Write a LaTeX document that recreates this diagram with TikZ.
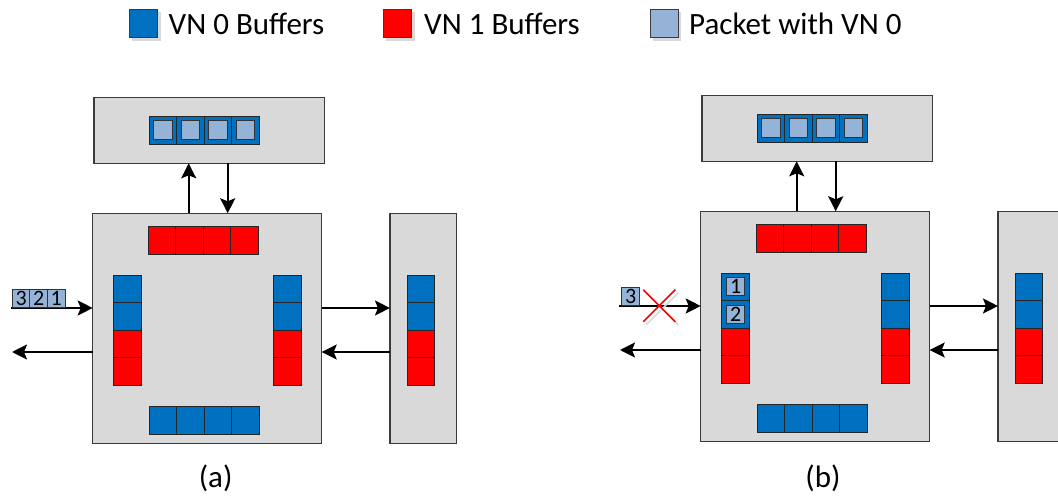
\documentclass[tikz,border=0pt]{standalone}
\usepackage{fontspec}
\setmainfont{Carlito}
\usetikzlibrary{arrows.meta,calc}

\definecolor{vnblue}{HTML}{0070C0}
\definecolor{vnred}{HTML}{FF0000}
\definecolor{pktblue}{HTML}{95B3D7}
\definecolor{boxgray}{HTML}{D9D9D9}
\definecolor{edgegray}{HTML}{3A3A3A}

\tikzset{
  unitbox/.style={fill=boxgray, draw=edgegray, line width=1.2pt, inner sep=0pt, outer sep=0pt},
  bcell/.style={draw=black!85, line width=0.9pt, minimum width=27.6pt, minimum height=27.6pt,
                inner sep=0pt, outer sep=0pt},
  vn0/.style={bcell, fill=vnblue},
  vn1/.style={bcell, fill=vnred},
  pkt/.style={fill=pktblue, draw=black!80, line width=1pt, minimum width=17.6pt,
              minimum height=18pt, inner sep=0pt, outer sep=0pt,
              font=\fontsize{22}{22}\selectfont},
  link/.style={line width=2pt, -{Stealth[length=15pt, width=15pt, inset=3pt]}},
  legendbox/.style={draw=edgegray, line width=0.8pt, minimum width=28.5pt,
                    minimum height=28.5pt, inner sep=0pt},
  legendshadow/.style={fill=black!15, minimum width=28.5pt, minimum height=28.5pt, inner sep=0pt},
  legendtext/.style={anchor=base west, inner sep=0pt, font=\fontsize{31}{36}\selectfont},
  caption/.style={anchor=base, inner sep=0pt, font=\fontsize{31}{36}\selectfont},
  % one router with its neighbour above and to the right
  panel/.pic={
    \node[unitbox, minimum width=230.3pt, minimum height=66pt] (top) at (209.2,130.3) {};
    \node[unitbox, minimum width=229pt, minimum height=230pt] (router) at (207.2,328.3) {};
    \node[unitbox, minimum width=66.7pt, minimum height=230pt] (side) at (423.3,328.3) {};
    % buffer of the upper neighbour, filled with VN 0 packets
    \foreach \i in {0,...,3} {
      \node[vn0] (tb\i) at ({162.8+27.6*\i},130.2) {};
      \node[pkt, minimum width=18.5pt, minimum height=18.5pt] (tp\i) at (tb\i) {};
    }
    % router buffers, top and bottom
    \foreach \i in {0,...,3} {
      \node[vn1] (rt\i) at ({161.8+27.6*\i},240.5) {};
      \node[vn0] (rb\i) at ({162.8+27.6*\i},420.5) {};
    }
    % vertical buffers: router west, router east, right neighbour
    \foreach \i/\s in {1/vn0,2/vn0,3/vn1,4/vn1} {
      \node[\s] (l\i) at (127.6,{261.2+27.6*\i}) {};
      \node[\s] (r\i) at (287.5,{261.2+27.6*\i}) {};
      \node[\s] (s\i) at (421,{261.2+27.6*\i}) {};
    }
    % links
    \coordinate (upx) at (188.7,0);
    \coordinate (dnx) at (227.7,0);
    \coordinate (hi) at (0,308);
    \coordinate (lo) at (0,352);
    \coordinate (inL) at (11,308);
    \coordinate (outL) at (12,352);
    \draw[link] (router.north -| upx) -- (top.south -| upx);
    \draw[link] (top.south -| dnx) -- (router.north -| dnx);
    \draw[link] (router.east |- hi) -- (side.west |- hi);
    \draw[link] (side.west |- lo) -- (router.east |- lo);
    \draw[link] (inL) -- (router.west |- inL);
    \draw[link] (router.west |- outL) -- (outL);
  }
}

\begin{document}
\begin{tikzpicture}[x=1pt, y=-1pt]
  \useasboundingbox (0,0) rectangle (1058,502);
  \clip (0,0) rectangle (1058,502);

  % legend
  \node[legendshadow] (sh0) at (146.4,26.5) {};
  \node[legendbox, fill=vnblue] (lg0) at (143.4,23.5) {};
  \node[legendtext] (lt0) at (168.5,34.3) {VN 0 Buffers};
  \node[legendshadow] (sh1) at (400.5,26.5) {};
  \node[legendbox, fill=vnred] (lg1) at (397.5,23.5) {};
  \node[legendtext] (lt1) at (424,34.3) {VN 1 Buffers};
  \node[legendshadow] (sh2) at (667.2,26.5) {};
  \node[legendbox, fill=pktblue] (lg2) at (664.2,23.5) {};
  \node[legendtext] (lt2) at (689,34.3) {Packet with VN 0};

  % (a): packets 3, 2, 1 arriving on the west input
  \pic (a-) at (0,0) {panel};
  \node[pkt] (a-p3) at (21.1,298.5) {3};
  \node[pkt] (a-p2) at (38.7,298.5) {2};
  \node[pkt] (a-p1) at (56.3,298.5) {1};
  \node[caption] (capa) at (215.6,487) {(a)};

  % (b): packets 1 and 2 occupy the west VN 0 buffer, packet 3 is blocked
  \pic (b-) at (608,-2) {panel};
  \node[pkt] (b-p1) at (b-l1) {1};
  \node[pkt] (b-p2) at (b-l2) {2};
  \node[pkt] (b-p3) at (630.7,296.3) {3};
  \coordinate (xc) at (659.3,305.7);
  \draw[black!15, line width=1.6pt] ($(xc)+(-13,-13)$) -- ($(xc)+(19,19)$)
                                    ($(xc)+(19,-13)$) -- ($(xc)+(-13,19)$);
  \draw[vnred, line width=1.6pt] ($(xc)+(-16,-16)$) -- ($(xc)+(16,16)$)
                                 ($(xc)+(16,-16)$) -- ($(xc)+(-16,16)$);
  \node[caption] (capb) at (823,487) {(b)};
\end{tikzpicture}
\end{document}
